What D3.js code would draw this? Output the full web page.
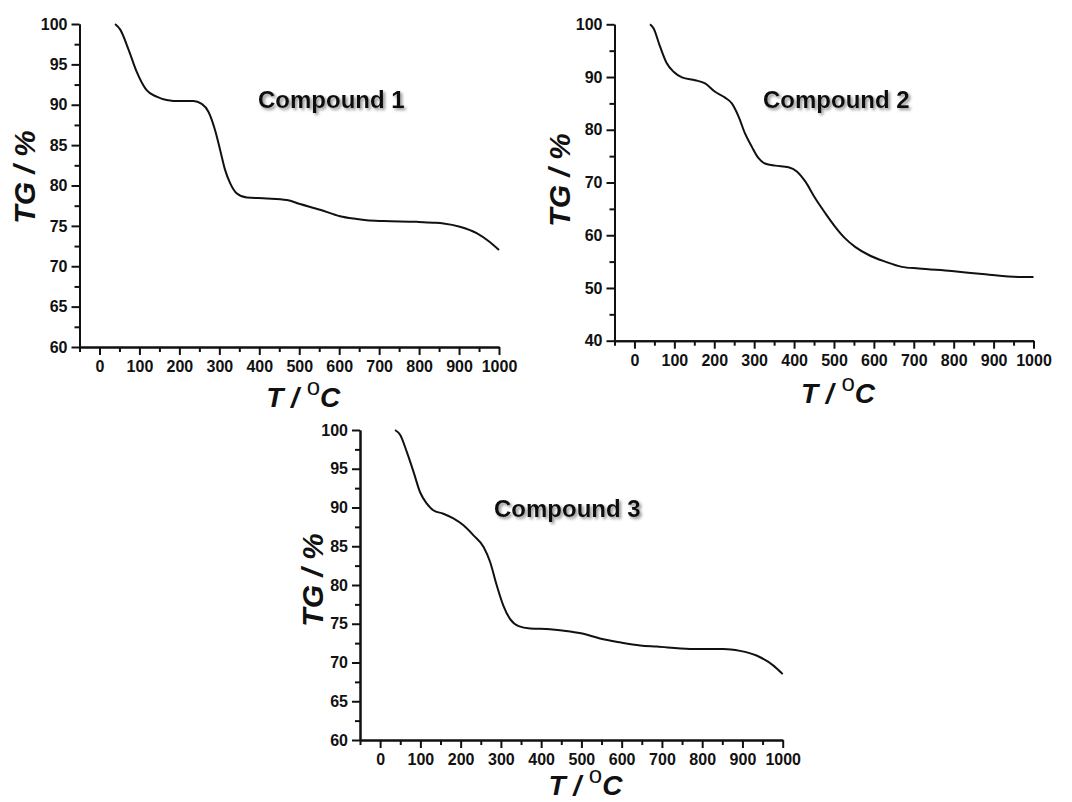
<!DOCTYPE html>
<html>
<head>
<meta charset="utf-8">
<title>TG curves</title>
<script src="https://d3js.org/d3.v7.min.js"></script>
<style>
  body { margin: 0; background: #fff; }
  .axis path, .axis line { stroke: #111; stroke-width: 2; }
  .axis text { font-family: "Liberation Sans", Arial, sans-serif; font-weight: bold; font-size: 16px; fill: #111; }
  .ttl { font-family: "Liberation Sans", Arial, sans-serif; font-weight: bold; font-style: italic; fill: #111; }
  .cmp { font-family: "Liberation Sans", Arial, sans-serif; font-weight: bold; font-size: 24px; fill: #111; }
</style>
</head>
<body>
<svg width="1072" height="802"></svg>
<script>
// temperatures (°C) and mass (%)
var temp1 = [39, 52, 73, 93, 118, 143, 168, 202, 235, 256, 273, 289, 302, 314, 327, 344, 369, 419, 469, 502, 552, 602, 636, 669, 711, 794, 836, 861, 902, 944, 977, 1000];
var tg1   = [100, 99.3, 96.8, 94.1, 91.8, 91.0, 90.6, 90.45, 90.45, 90.1, 89.1, 86.9, 84.4, 82.0, 80.3, 79.0, 78.5, 78.4, 78.2, 77.7, 77.0, 76.2, 75.9, 75.7, 75.6, 75.5, 75.4, 75.3, 74.9, 74.1, 73.0, 72.0];

var temp2 = [39, 48, 64, 81, 98, 119, 152, 177, 202, 227, 244, 261, 277, 294, 311, 327, 353, 386, 407, 428, 453, 478, 503, 528, 553, 586, 628, 670, 712, 795, 879, 962, 1000];
var tg2   = [100, 99.2, 95.8, 92.6, 91.0, 89.95, 89.4, 88.8, 87.2, 86.1, 85.0, 82.5, 79.3, 76.8, 74.6, 73.6, 73.2, 72.9, 72.1, 70.2, 67.0, 64.2, 61.6, 59.4, 57.8, 56.3, 55.0, 54.0, 53.7, 53.2, 52.6, 52.1, 52.1];

var temp3 = [37, 50, 66, 83, 99, 116, 132, 157, 182, 207, 232, 257, 273, 290, 306, 323, 344, 373, 422, 472, 505, 546, 596, 646, 687, 770, 853, 894, 935, 977, 1000];
var tg3   = [100, 99.35, 97.2, 94.6, 92.0, 90.5, 89.65, 89.2, 88.6, 87.7, 86.4, 84.9, 83.0, 79.9, 77.35, 75.6, 74.7, 74.4, 74.3, 74.0, 73.7, 73.1, 72.6, 72.2, 72.05, 71.75, 71.75, 71.5, 70.9, 69.6, 68.5];

var xTicks  = [0, 100, 200, 300, 400, 500, 600, 700, 800, 900, 1000];
var yTicks1 = [60, 65, 70, 75, 80, 85, 90, 95, 100];
var yTicks2 = [40, 50, 60, 70, 80, 90, 100];
var yTicks3 = [60, 65, 70, 75, 80, 85, 90, 95, 100];
var names   = ["Compound 1", "Compound 2", "Compound 3"];

var svg = d3.select("svg");

var defs = svg.append("defs");
var f = defs.append("filter").attr("id", "shadow")
  .attr("x", "-10%").attr("y", "-30%").attr("width", "130%").attr("height", "170%");
f.append("feDropShadow").attr("dx", 2).attr("dy", 2).attr("stdDeviation", 1.4)
  .attr("flood-color", "#777").attr("flood-opacity", 0.8);

// layout of each panel (pixels)
var panels = [
  { t: temp1, v: tg1, yt: yTicks1, ymin: 60, minor: 2.5, name: names[0],
    xr: [79.5, 499], yr: [347, 24], title: [258, 108], ylab: [35, 177], xlab: 407 },
  { t: temp2, v: tg2, yt: yTicks2, ymin: 40, minor: 5, name: names[1],
    xr: [614.5, 1033.5], yr: [340.7, 24.3], title: [763, 108], ylab: [570, 180], xlab: 403 },
  { t: temp3, v: tg3, yt: yTicks3, ymin: 60, minor: 2.5, name: names[2],
    xr: [360, 782.7], yr: [740, 430], title: [494, 517], ylab: [323, 580], xlab: 795 }
];

panels.forEach(function(p) {
  var x = d3.scaleLinear().domain([-50, 1000]).range(p.xr);
  var y = d3.scaleLinear().domain([p.ymin, 100]).range(p.yr);
  var g = svg.append("g");

  // minor ticks
  var xMinor = d3.range(-50, 1001, 50).filter(function(d) { return d % 100 !== 0; });
  var yMinor = d3.range(p.ymin, 100.01, p.minor).filter(function(d) { return p.yt.indexOf(d) < 0; });

  g.append("g").attr("class", "axis")
    .attr("transform", "translate(0," + p.yr[0] + ")")
    .call(d3.axisBottom(x).tickValues(xMinor).tickSize(5).tickFormat("").tickSizeOuter(0));
  g.append("g").attr("class", "axis")
    .attr("transform", "translate(" + p.xr[0] + ",0)")
    .call(d3.axisLeft(y).tickValues(yMinor).tickSize(5).tickFormat("").tickSizeOuter(0));

  g.append("g").attr("class", "axis")
    .attr("transform", "translate(0," + p.yr[0] + ")")
    .call(d3.axisBottom(x).tickValues(xTicks).tickSize(8).tickPadding(6)
      .tickFormat(d3.format("d")).tickSizeOuter(0));
  g.append("g").attr("class", "axis")
    .attr("transform", "translate(" + p.xr[0] + ",0)")
    .call(d3.axisLeft(y).tickValues(p.yt).tickSize(8).tickPadding(4)
      .tickFormat(d3.format("d")).tickSizeOuter(0));

  var line = d3.line()
    .x(function(d) { return x(d[0]); })
    .y(function(d) { return y(d[1]); })
    .curve(d3.curveMonotoneX);

  g.append("path")
    .datum(d3.zip(p.t, p.v))
    .attr("fill", "none")
    .attr("stroke", "#111")
    .attr("stroke-width", 2)
    .attr("d", line);

  g.append("text").attr("class", "cmp")
    .attr("x", p.title[0]).attr("y", p.title[1])
    .attr("filter", "url(#shadow)")
    .text(p.name);

  g.append("text").attr("class", "ttl")
    .attr("font-size", 30)
    .attr("text-anchor", "middle")
    .attr("transform", "translate(" + p.ylab[0] + "," + p.ylab[1] + ") rotate(-90)")
    .text("TG / %");

  var xl = g.append("text").attr("class", "ttl")
    .attr("font-size", 28)
    .attr("text-anchor", "middle")
    .attr("x", x(500) + 4).attr("y", p.xlab);
  xl.append("tspan").text("T / ");
  xl.append("tspan").attr("font-size", 24).attr("font-weight", "normal").attr("font-style", "normal")
    .attr("dy", -12).text("o");
  xl.append("tspan").attr("dy", 12).text("C");
});
</script>
</body>
</html>
